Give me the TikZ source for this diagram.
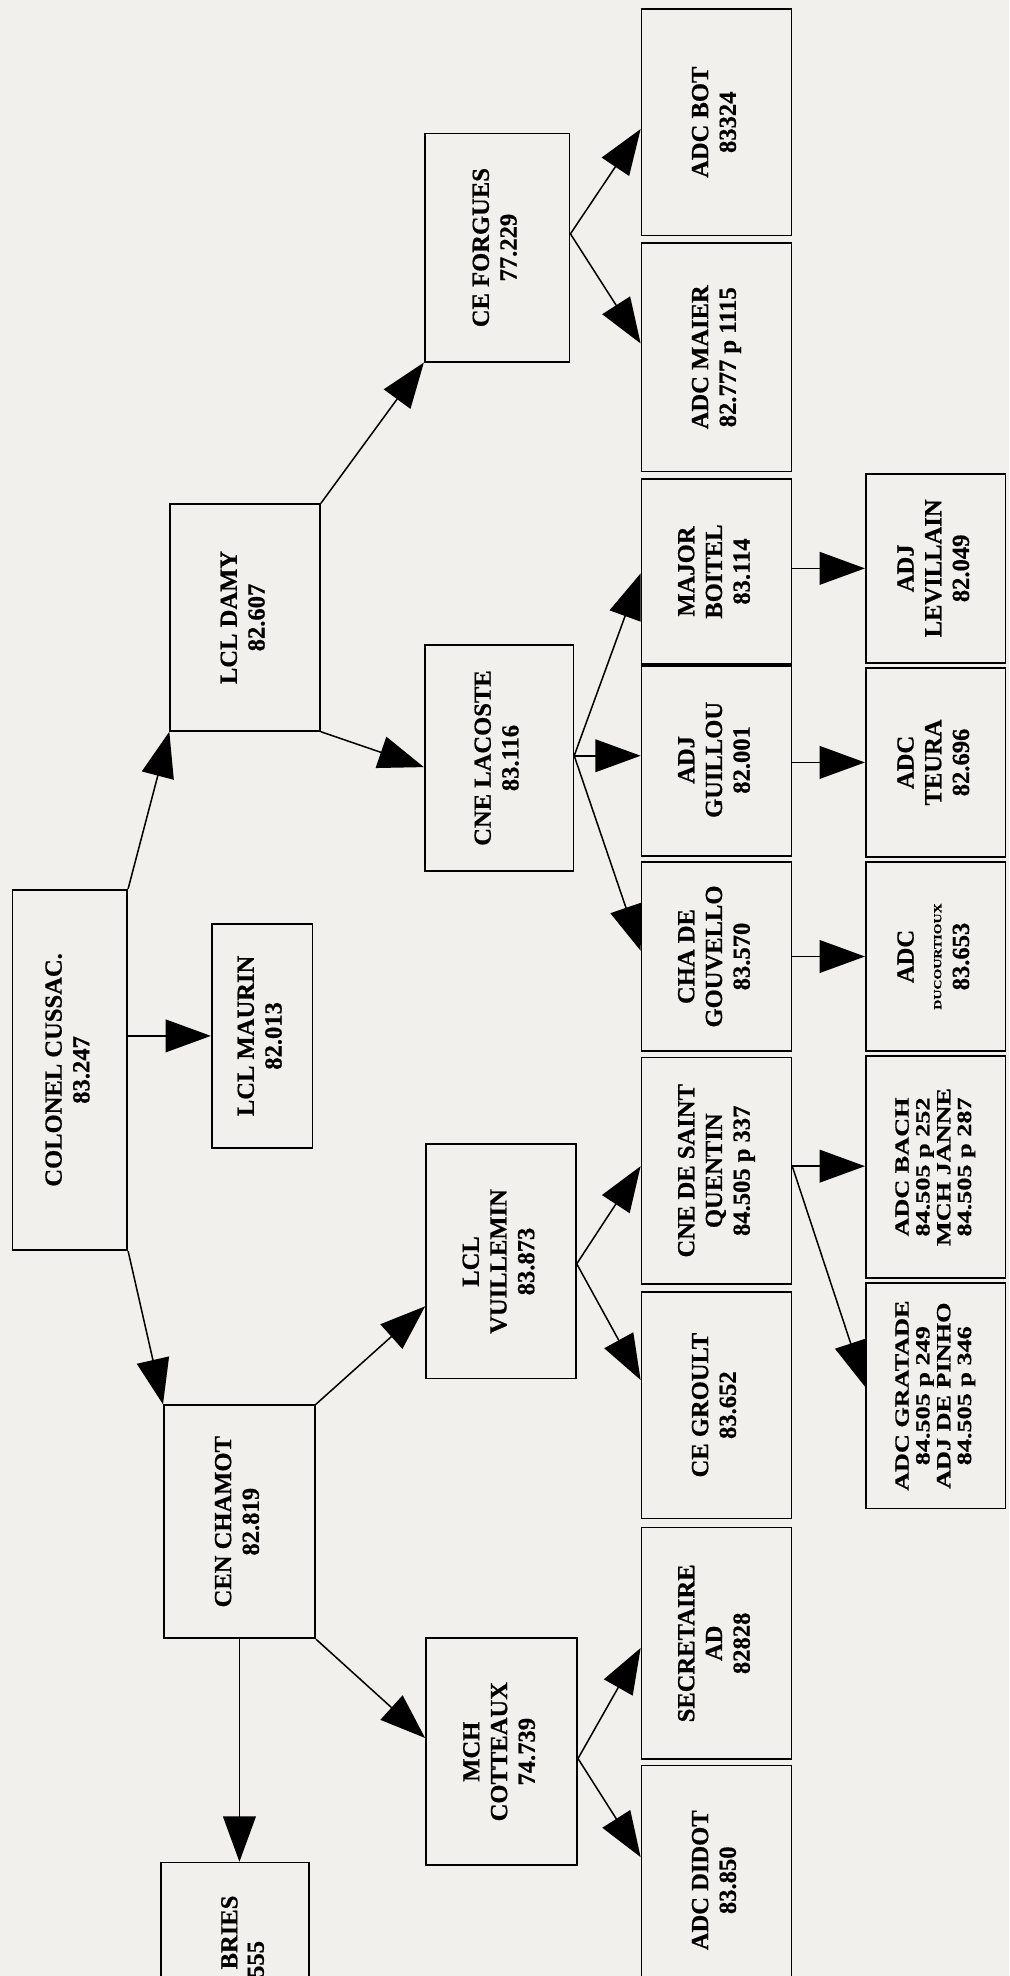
\documentclass[tikz,border=0pt]{standalone}
\usepackage{fontspec}
\usepackage{graphicx}
\setmainfont{Liberation Serif}[BoldFeatures={FakeBold=0.6}]
\newfontfamily\widefont{Liberation Serif}[FakeStretch=1.3,BoldFeatures={FakeBold=0.6}]
\usetikzlibrary{arrows.meta,calc}
\definecolor{paper}{RGB}{241,240,236}
\tikzset{
  box/.style={draw=black, line width=1.3pt, inner sep=0pt, font=\bfseries\fontsize{19.5}{22}\selectfont},
  smalltext/.style={font=\widefont\bfseries\fontsize{16}{16.5}\selectfont},
  arr/.style={line width=1.2pt, -{Triangle[length=36pt,width=26pt]}},
  cut/.style={inner sep=0pt, font=\bfseries\fontsize{19.5}{22}\selectfont, rotate=90, anchor=east}
}
\newcommand\orgbox[7][]{%
  \node[box,#1,minimum width={#5-#3},minimum height={#6-#4}] (#2) at ({(#3+#5)/2},{(#4+#6)/2})
    {\rotatebox{90}{\begin{tabular}{@{}c@{}}#7\end{tabular}}};}
\begin{document}
\begin{tikzpicture}[x=1pt,y=-1pt]
\useasboundingbox (0,0) rectangle (801,1568);
\fill[paper] (0,0) rectangle (801,1568);
\clip (0,0) rectangle (801,1568);

% level 0
\orgbox{colonel}{10}{706}{101}{992}{COLONEL CUSSAC.\\83.247}
% level 1
\orgbox{damy}{135}{400}{254}{580}{LCL DAMY\\82.607}
\orgbox{maurin}{168}{733}{248}{911}{LCL MAURIN\\82.013}
\orgbox{chamot}{130}{1115}{250}{1300}{CEN CHAMOT\\82.819}
\node[draw=black, line width=1.3pt, inner sep=0pt, minimum width=117pt, minimum height=122pt] (bries) at (186.5,1539) {};
\node[cut] (briesA) at (182,1504) {BRIES};
\node[cut] (briesB) at (203,1540) {555};
% level 2
\orgbox{forgues}{337}{106}{452}{287}{CE FORGUES\\77.229}
\orgbox{lacoste}{337}{512}{455}{691}{CNE LACOSTE\\83.116}
\orgbox{vuillemin}{338}{908}{457}{1094}{LCL\\VUILLEMIN\\83.873}
\orgbox{cotteaux}{338}{1300}{458}{1480}{MCH\\COTTEAUX\\74.739}
% level 3
\orgbox{bot}{509}{7}{628}{187}{ADC BOT\\83324}
\orgbox{maier}{509}{193}{628}{374}{ADC MAIER\\82.777 p 1115}
\orgbox{boitel}{509}{380}{628}{527}{MAJOR\\BOITEL\\83.114}
\orgbox{guillou}{509}{527}{628}{679}{ADJ\\GUILLOU\\82.001}
\orgbox{gouvello}{509}{684}{628}{834}{CHA DE\\GOUVELLO\\83.570}
\orgbox{quentin}{509}{839}{628}{1019}{CNE DE SAINT\\QUENTIN\\84.505 p 337}
\orgbox{groult}{509}{1025}{628}{1205}{CE GROULT\\83.652}
\orgbox{secretaire}{509}{1212}{628}{1396}{SECRETAIRE\\AD\\82828}
\orgbox{didot}{509}{1401}{628}{1583}{ADC DIDOT\\83.850}
% level 4
\orgbox{levillain}{687}{376}{798}{526}{ADJ\\LEVILLAIN\\82.049}
\orgbox{teura}{687}{530}{798}{680}{ADC\\TEURA\\82.696}
\orgbox{ducourtioux}{687}{684}{798}{834}{ADC\\{\widefont\fontsize{8.5}{12}\selectfont DUCOURTIOUX}\\83.653}
\orgbox[smalltext]{bach}{687}{838}{798}{1014}{ADC BACH\\84.505 p 252\\MCH JANNE\\84.505 p 287}
\orgbox[smalltext]{gratade}{687}{1018}{798}{1197}{ADC GRATADE\\84.505 p 249\\ADJ DE PINHO\\84.505 p 346}

% thick shared border between BOITEL and GUILLOU
\draw[line width=3.5pt] (boitel.south west) -- (boitel.south east);

% fork points
\coordinate (ff) at ($(forgues.north east)!0.44!(forgues.south east)$);
\coordinate (lf) at ($(lacoste.north east)!0.49!(lacoste.south east)$);
\coordinate (vf) at ($(vuillemin.north east)!0.51!(vuillemin.south east)$);
\coordinate (cf) at ($(cotteaux.north east)!0.53!(cotteaux.south east)$);
\coordinate (qf) at ($(quentin.north east)!0.48!(quentin.south east)$);

% connectors
\draw[arr] (colonel.north east) -- (damy.south west);
\draw[arr] (colonel.east |- maurin.west) -- (maurin.west);
\draw[arr] (colonel.south east) -- (chamot.north west);

\draw[arr] (damy.north east) -- (forgues.south west);
\draw[arr] (damy.south east) -- ($(lacoste.north west)!0.54!(lacoste.south west)$);
\draw[arr] (chamot.north east) -- ($(vuillemin.north west)!0.69!(vuillemin.south west)$);
\draw[arr] (chamot.south east) -- ($(cotteaux.north west)!0.44!(cotteaux.south west)$);
\draw[arr] (chamot.south) -- (chamot.south |- bries.north);

\draw[arr] (ff) -- ($(bot.north west)!0.53!(bot.south west)$);
\draw[arr] (ff) -- ($(maier.north west)!0.44!(maier.south west)$);

\draw[arr] (lf) -- ($(boitel.north west)!0.51!(boitel.south west)$);
\draw[arr] (lf) -- (lf -| guillou.west);
\draw[arr] (lf) -- ($(gouvello.north west)!0.47!(gouvello.south west)$);

\draw[arr] (vf) -- ($(quentin.north west)!0.48!(quentin.south west)$);
\draw[arr] (vf) -- ($(groult.north west)!0.39!(groult.south west)$);

\draw[arr] (cf) -- ($(secretaire.north west)!0.52!(secretaire.south west)$);
\draw[arr] (cf) -- ($(didot.north west)!0.40!(didot.south west)$);

\draw[arr] (boitel.east |- levillain.west) -- (levillain.west);
\draw[arr] (guillou.east |- teura.west) -- (teura.west);
\draw[arr] (gouvello.east |- ducourtioux.west) -- (ducourtioux.west);
\draw[arr] (qf) -- (qf -| bach.west);
\draw[arr] (qf) -- ($(gratade.north west)!0.46!(gratade.south west)$);
\end{tikzpicture}
\end{document}
